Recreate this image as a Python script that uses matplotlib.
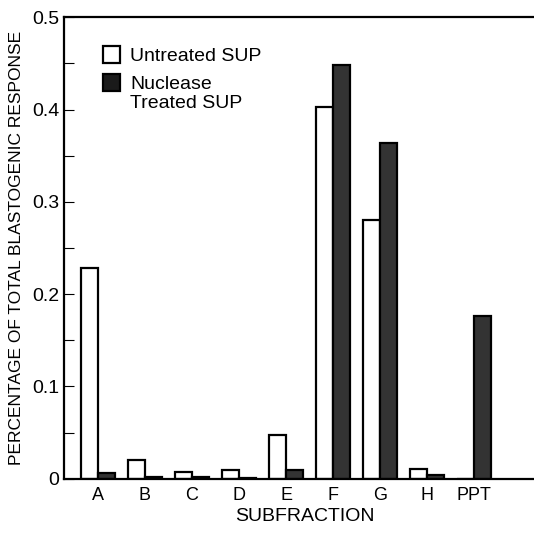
import matplotlib
matplotlib.use("Agg")
import matplotlib.pyplot as plt
import numpy as np
from matplotlib.patches import Patch

categories = ["A", "B", "C", "D", "E", "F", "G", "H", "PPT"]
untreated = [0.228, 0.020, 0.007, 0.010, 0.047, 0.403, 0.280, 0.011, 0.0]
treated = [0.006, 0.002, 0.002, 0.001, 0.010, 0.448, 0.364, 0.004, 0.176]
yticks = [0, 0.1, 0.2, 0.3, 0.4, 0.5]
ytick_labels = ["0", "0.1", "0.2", "0.3", "0.4", "0.5"]

plt.rcParams['font.family'] = ['Liberation Sans', 'DejaVu Sans']

fig = plt.figure(figsize=(5.34, 5.38), dpi=100)
ax = fig.add_axes([0.12, 0.110, 0.90, 0.858])

x = np.arange(len(categories))
w = 0.36
ax.bar(x - w / 2, untreated, width=w, facecolor="white", edgecolor="black", linewidth=1.6)
ax.bar(x + w / 2, treated, width=w, facecolor="#333333", edgecolor="black", linewidth=1.6)

ax.set_xlim(-0.72, 9.5)
ax.set_ylim(0, 0.5)
ax.set_yticks(yticks)
ax.set_yticklabels(ytick_labels, fontsize=14)
ax.set_yticks([0.05, 0.15, 0.25, 0.35, 0.45], minor=True)
ax.tick_params(axis='y', which='both', direction='in', length=7, width=0.8)
ax.set_xticks(x)
ax.set_xticklabels(categories, fontsize=13)
ax.tick_params(axis='x', length=0, pad=6)
for s in ["left", "bottom", "top"]:
    ax.spines[s].set_linewidth(1.6)
ax.spines["right"].set_visible(False)

ax.set_ylabel("PERCENTAGE OF TOTAL BLASTOGENIC RESPONSE", fontsize=12.5, labelpad=6)
ax.set_xlabel("SUBFRACTION", fontsize=14, labelpad=3)

handles = [Patch(facecolor="white", edgecolor="black", linewidth=1.6),
           Patch(facecolor="#1a1a1a", edgecolor="black", linewidth=1.6)]
leg = ax.legend(handles, ["Untreated SUP", "Nuclease"], loc="upper left",
                bbox_to_anchor=(0.045, 0.975), frameon=False, fontsize=14,
                handlelength=0.85, handleheight=0.95, handletextpad=0.55, labelspacing=0.45)
fig.canvas.draw()
t = leg.get_texts()[1]
bb = t.get_window_extent().transformed(ax.transAxes.inverted())
ax.text(bb.x0, bb.y0 - 0.005, "Treated SUP", transform=ax.transAxes, fontsize=14,
        ha="left", va="top")

fig.savefig("out.png", dpi=100)
